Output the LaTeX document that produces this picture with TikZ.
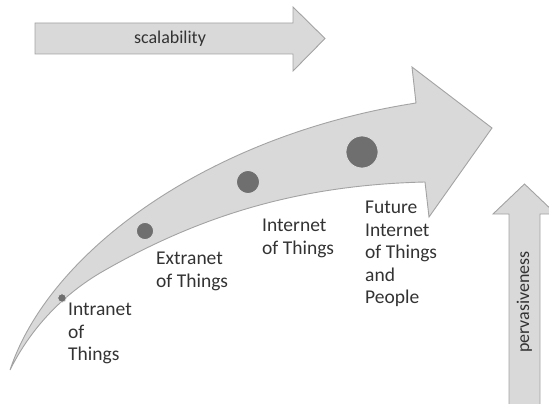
\documentclass[tikz,border=0pt]{standalone}
\usepackage{fontspec}
\setmainfont{Carlito}
\usetikzlibrary{positioning}
\definecolor{band}{HTML}{D9D9D9}
\definecolor{rim}{HTML}{A3A3A3}
\definecolor{blob}{HTML}{6F6F6F}
\definecolor{ink}{HTML}{333333}

\begin{document}
\begin{tikzpicture}[x=1pt,y=-1pt,
    arrowbody/.style={fill=band,draw=rim,line width=0.9pt,line join=miter},
    dot/.style={circle,fill=blob,draw=white!88!black,line width=0.7pt,inner sep=0pt},
    stage/.style={anchor=north west,align=left,inner sep=0pt,text=ink,
        font=\fontsize{19.5}{22.5}\selectfont},
    axis label/.style={inner sep=0pt,text=ink,font=\fontsize{18}{20}\selectfont}]
\useasboundingbox (0,0) rectangle (549,404);

% scalability
\draw[arrowbody] (35,23) -- (293,23) -- (293,7) -- (325,38.5) -- (293,71) -- (293,54) -- (35,54) -- cycle;
\node[axis label] (scal) at (170,38.5) {scalability};

% pervasiveness
\draw[arrowbody] (509,410) -- (509,214) -- (493,214) -- (524.5,184) -- (556,214) -- (540,214) -- (540,410);
\node[axis label,rotate=90] (perv) at (524.5,302) {pervasiveness};

% growth
\draw[arrowbody] (10,370) .. controls (50,250) and (210,135) .. (416,103) -- (412,67) -- (492,128)
    -- (429,217) -- (425,182) .. controls (300,185) and (200,215) .. (100,273)
    .. controls (60,297) and (30,330) .. (10,370) -- cycle;

\node[dot,minimum size=8.5pt] (a) at (62,298) {};
\node[dot,minimum size=17pt] (b) at (145,231) {};
\node[dot,minimum size=23pt] (c) at (248,182) {};
\node[dot,minimum size=32pt] (d) at (362,152) {};

\node[stage] (ta) at (68,303) {Intranet\\of\\Things};
\node[stage] (tb) at (156,252) {Extranet\\of Things};
\node[stage] (tc) at (262,219) {Internet\\of Things};
\node[stage] (td) at (365,201) {Future\\Internet\\of Things\\and\\People};
\end{tikzpicture}
\end{document}
